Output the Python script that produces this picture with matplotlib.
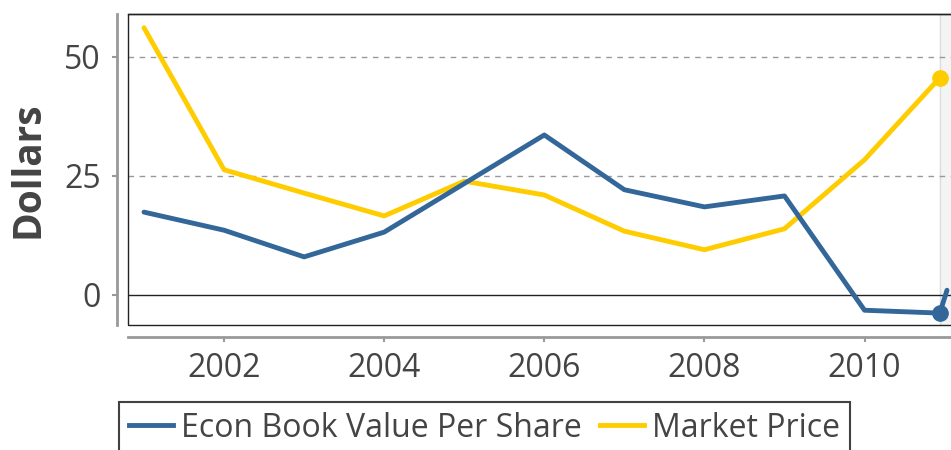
import matplotlib
matplotlib.use("Agg")
import matplotlib.pyplot as plt
from matplotlib.patches import Rectangle
from matplotlib.lines import Line2D

years = [2001, 2002, 2003, 2004, 2005, 2006, 2007, 2008, 2009, 2010, 2010.94]
book_value = [17.4, 13.6, 8.0, 13.2, 23.4, 33.6, 22.1, 18.5, 20.8, -3.2, -3.8]
market_price = [56.1, 26.3, 21.4, 16.6, 23.9, 21.0, 13.4, 9.5, 13.9, 28.4, 45.6]
spur_x = [2010.94, 2011.03]
spur_y = [-3.8, 1.0]
xticks = [2002, 2004, 2006, 2008, 2010]
yticks = [0, 25, 50]

BLUE = "#336699"
YELLOW = "#FFCC00"
TXT = "#444444"
SPINE = "#999999"

plt.rcParams['font.family'] = ['Open Sans', 'DejaVu Sans']

W, H = 951, 450
fig = plt.figure(figsize=(W / 100, H / 100), dpi=100)
left, right, top, bottom = 128, 955, 14, 325
ax = fig.add_axes([left / W, 1 - bottom / H, (right - left) / W, (bottom - top) / H])

ax.set_xlim(2000.80, 2011.13)
ax.set_ylim(-6.3, 59.0)

# shaded band at the last point
ax.axvspan(years[-1], 2011.13, color="#f4f4f4", zorder=0)
ax.axvline(years[-1], color="#dddddd", lw=1, zorder=0.5)

# grid
for v in [25, 50]:
    ax.axhline(v, color="#999999", lw=1, ls=(0, (4, 4)), zorder=1)
ax.axhline(0, color="#222222", lw=1, zorder=1)

ax.plot(years, market_price, color=YELLOW, lw=3.5, zorder=3, solid_capstyle='round')
ax.plot(years, book_value, color=BLUE, lw=3.5, zorder=4, solid_capstyle='round')
ax.plot(spur_x, spur_y, color=BLUE, lw=3.5, zorder=4, solid_capstyle='round')
ax.plot([years[-1]], [market_price[-1]], 'o', color=YELLOW, ms=11, zorder=5)
ax.plot([years[-1]], [book_value[-1]], 'o', color=BLUE, ms=11, zorder=5)

# spines
for s in ['top', 'right']:
    ax.spines[s].set_color('#222222')
    ax.spines[s].set_linewidth(1)
ax.spines['left'].set_position(('outward', 8))
ax.spines['bottom'].set_position(('outward', 8.6))
for s in ['left', 'bottom']:
    ax.spines[s].set_color(SPINE)
    ax.spines[s].set_linewidth(2)
ax.add_patch(Rectangle((0, 0), 1, 1, transform=ax.transAxes, fill=False,
                       edgecolor='#222222', lw=1, clip_on=False, zorder=6))

ax.set_xticks(xticks)
ax.set_xticklabels([str(x) for x in xticks])
ax.set_yticks(yticks)
ax.set_yticklabels([str(y) for y in yticks])
ax.tick_params(axis='both', colors=SPINE, labelcolor=TXT, labelsize=23,
               length=3.6, width=1.5)
ax.tick_params(axis='y', pad=8)
ax.tick_params(axis='x', pad=7)

ax.set_ylabel("Dollars", fontsize=28, fontweight='bold', color=TXT, labelpad=12)

handles = [Line2D([], [], color=BLUE, lw=3.5), Line2D([], [], color=YELLOW, lw=3.5)]
leg = fig.legend(handles, ["Econ Book Value Per Share", "Market Price"],
                 loc='upper left', bbox_to_anchor=(119 / W, 1 - 402 / H),
                 ncol=2, frameon=True, fancybox=False, fontsize=23,
                 handlelength=1.4, handletextpad=0.25, columnspacing=0.55,
                 borderpad=0.3, borderaxespad=0)
leg.get_frame().set_edgecolor('#111111')
leg.get_frame().set_linewidth(1.5)
for t in leg.get_texts():
    t.set_color(TXT)

fig.savefig("out.png", dpi=100)
